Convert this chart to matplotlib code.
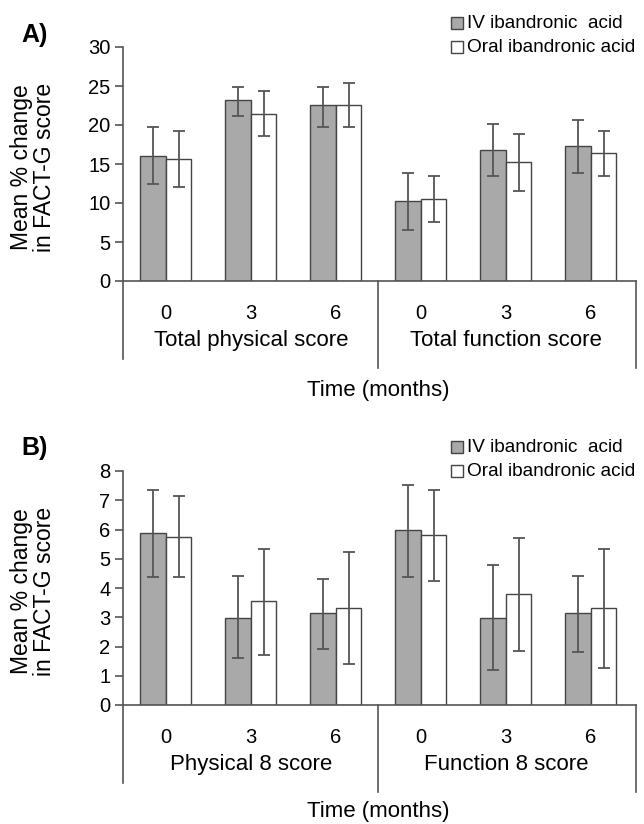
import matplotlib
matplotlib.use('Agg')
import matplotlib.pyplot as plt
from matplotlib.patches import Rectangle
from matplotlib.transforms import blended_transform_factory
import numpy as np

plt.rcParams['font.family'] = ['Liberation Sans', 'DejaVu Sans']

months = ['0', '3', '6']
series = ['IV ibandronic  acid', 'Oral ibandronic acid']
groups_a = ['Total physical score', 'Total function score']
groups_b = ['Physical 8 score', 'Function 8 score']

# panel A: mean and the top / bottom of each error bar
iv_a = [16.0, 23.2, 22.6, 10.2, 16.8, 17.3]
iv_a_hi = [19.7, 24.9, 24.9, 13.9, 20.1, 20.6]
iv_a_lo = [12.4, 21.2, 19.8, 6.6, 13.5, 13.9]
oral_a = [15.6, 21.4, 22.6, 10.5, 15.3, 16.4]
oral_a_hi = [19.2, 24.3, 25.4, 13.4, 18.8, 19.2]
oral_a_lo = [12.0, 18.6, 19.7, 7.6, 11.6, 13.5]

# panel B
iv_b = [5.87, 2.96, 3.13, 5.99, 2.97, 3.14]
iv_b_hi = [7.35, 4.42, 4.30, 7.52, 4.77, 4.40]
iv_b_lo = [4.39, 1.59, 1.92, 4.36, 1.18, 1.81]
oral_b = [5.76, 3.57, 3.33, 5.80, 3.79, 3.32]
oral_b_hi = [7.15, 5.34, 5.22, 7.35, 5.70, 5.34]
oral_b_lo = [4.39, 1.70, 1.40, 4.25, 1.83, 1.25]

W, H = 644, 824
GRAY = '#a9a9a9'
EDGE = '#444444'
LINE = '#555555'

fig = plt.figure(figsize=(W / 100, H / 100), dpi=100)


def fx(px):
    return px / W


def fy(py):
    return 1 - py / H


def panel(top, letter, letter_y, ymax, ystep, iv, iv_hi, iv_lo, oral, oral_hi, oral_lo, groups, time_y):
    ax = fig.add_axes([fx(123), fy(top + 234), fx(636) - fx(123), 234 / H])
    x = np.arange(len(iv))
    w = 0.3
    left, right = -0.505, 5.53

    iv = np.array(iv)
    oral = np.array(oral)
    ax.bar(x - w / 2, iv, w, color=GRAY, edgecolor=EDGE, linewidth=1, zorder=2)
    ax.bar(x + w / 2, oral, w, color='white', edgecolor=EDGE, linewidth=1, zorder=2)
    ax.errorbar(x - w / 2, iv, yerr=[iv - np.array(iv_lo), np.array(iv_hi) - iv], fmt='none',
                ecolor=LINE, elinewidth=1.3, capsize=4, capthick=1.3, zorder=3)
    ax.errorbar(x + w / 2, oral, yerr=[oral - np.array(oral_lo), np.array(oral_hi) - oral], fmt='none',
                ecolor=LINE, elinewidth=1.3, capsize=4, capthick=1.3, zorder=3)

    ax.set_xlim(left, right)
    ax.set_ylim(0, ymax)
    ax.set_yticks(np.arange(0, ymax + 0.01, ystep))
    ax.set_xticks([])
    ax.tick_params(axis='y', labelsize=14.5, length=6, width=1.2, color=LINE, pad=3)
    for s in ['top', 'right']:
        ax.spines[s].set_visible(False)
    for s in ['left', 'bottom']:
        ax.spines[s].set_color(LINE)
        ax.spines[s].set_linewidth(1.2)

    trans = blended_transform_factory(ax.transData, ax.transAxes)
    for xv, depth in [(left, 0.333), (2.5, 0.372), (right, 0.372)]:
        ax.plot([xv, xv], [0, -depth], transform=trans, clip_on=False, color=LINE, lw=1.2)

    for i in range(len(iv)):
        ax.text(x[i], -0.137, months[i % 3], transform=trans, ha='center', va='center', fontsize=14.5)
    ax.text(1, -0.254, groups[0], transform=trans, ha='center', va='center', fontsize=16)
    ax.text(4, -0.254, groups[1], transform=trans, ha='center', va='center', fontsize=16)
    ax.text(2.5, time_y, 'Time (months)', transform=trans, ha='center', va='center', fontsize=16)

    fig.text(fx(35), fy(letter_y), letter, ha='center', va='center', fontsize=18, fontweight='bold')
    fig.text(fx(33), fy(top + 120), 'Mean % change\nin FACT-G score', rotation=90, ha='center',
             va='center', multialignment='center', linespacing=1.0, fontsize=16.5)

    for k, (label, fc) in enumerate(zip(series, [GRAY, 'white'])):
        row = top - 24 + 24 * k
        fig.add_artist(Rectangle((fx(451), fy(row + 6)), fx(12), 12 / H, transform=fig.transFigure,
                                 facecolor=fc, edgecolor=EDGE, linewidth=1))
        fig.text(fx(467), fy(row), label, ha='left', va='center', fontsize=13.7)
    return ax


panel(47, 'A)', 35, 30, 5, iv_a, iv_a_hi, iv_a_lo, oral_a, oral_a_hi, oral_a_lo, groups_a, -0.466)
panel(471, 'B)', 448, 8, 1, iv_b, iv_b_hi, iv_b_lo, oral_b, oral_b_hi, oral_b_lo, groups_b, -0.457)

fig.savefig('out.png', dpi=100)
